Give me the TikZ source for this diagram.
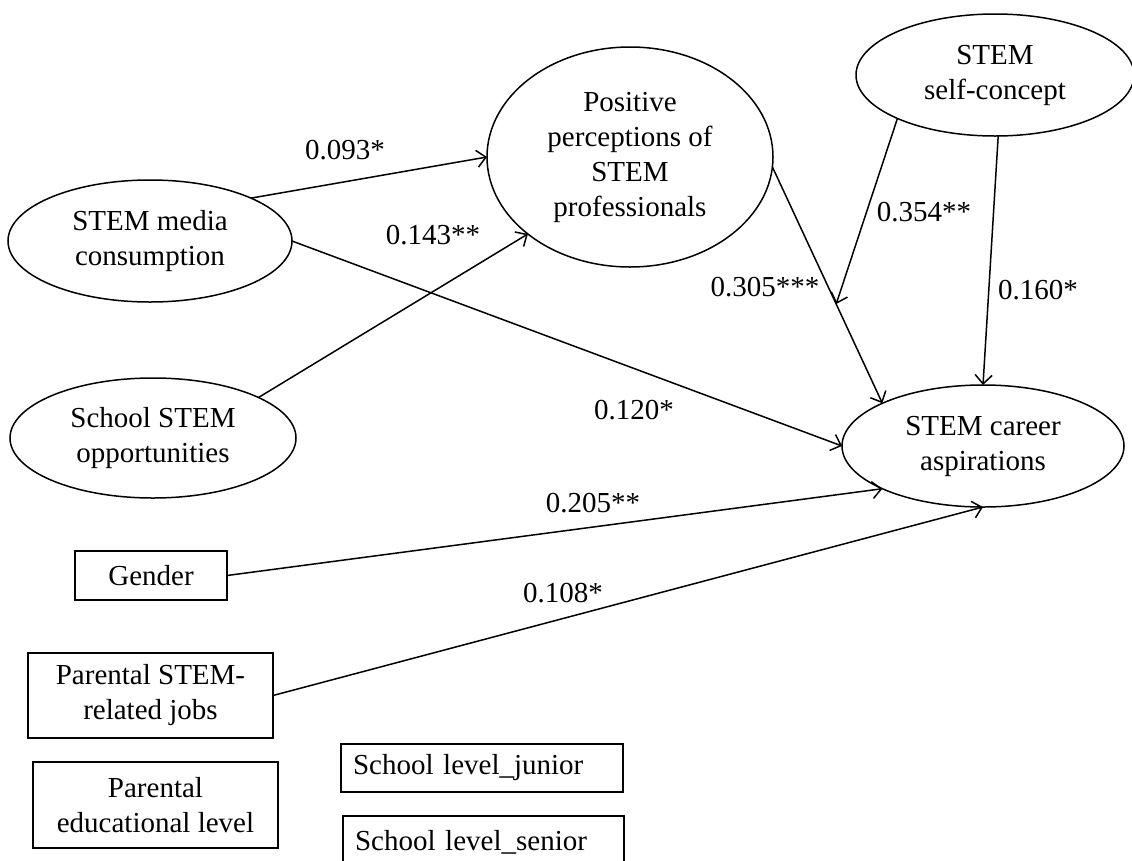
\documentclass[tikz,border=0pt]{standalone}
\usepackage{fontspec}
\setmainfont{Liberation Serif}
\usetikzlibrary{arrows.meta,calc,shapes.geometric}
\begin{document}
\begin{tikzpicture}[x=1pt,y=-1pt,
  every node/.style={font=\fontsize{29}{35}\selectfont, inner sep=0pt, outer sep=0pt},
  latent/.style={draw, ellipse, line width=1.5pt, align=center},
  obs/.style={draw, rectangle, line width=1.5pt, align=center},
  effect/.style={line width=1.5pt, -{Straight Barb[length=9pt,width=17pt,line width=1.5pt]}},
  coef/.style={}]
\useasboundingbox (0,0) rectangle (1132,860);
\fill[white] (0,0) rectangle (1132,860);
\clip (0,0) rectangle (1132,860);

\node[latent, minimum width=284, minimum height=122] (media) at (150,241) {STEM media\\consumption};
\node[latent, minimum width=286, minimum height=220] (pos) at (630,157) {Positive\\perceptions of\\STEM\\professionals};
\node[latent, minimum width=278, minimum height=122] (self) at (995,75) {STEM\\self-concept};
\node[latent, minimum width=286, minimum height=120] (school) at (153,438) {School STEM\\opportunities};
\node[latent, minimum width=282, minimum height=122] (career) at (983,446) {STEM career\\aspirations};

\node[obs, minimum width=152, minimum height=49] (gender) at (151,575.5) {Gender};
\node[obs, minimum width=245, minimum height=85] (pjobs) at (150.5,695.5) {Parental STEM-\\related jobs};
\node[obs, minimum width=245, minimum height=86] (pedu) at (155.5,805) {Parental\\educational level};
\node[obs, minimum height=48, text width=258pt, inner xsep=12pt, align=left] (junior) at (482,768) {School level\_junior};
\node[obs, minimum height=52, text width=257pt, inner xsep=12pt, align=left] (senior) at (483.5,842) {School level\_senior};

\draw[effect] (media.23) -- (pos.west);
\draw[effect] (school.21.5) -- (pos.217);
\draw[effect] (media.east) -- (career.west);
\draw[effect] (pos.-4) -- (career.157);
\coordinate (mod) at ($(pos.-4)!0.58!(career.157)$);
\draw[effect] (self.204) -- (mod);
\draw[effect] (self.-87) -- (career.north);
\draw[effect] (gender.east) -- (career.203);
\draw[effect] (pjobs.east) -- (career.south);

\node[coef] (c1) at (345,150) {0.093*};
\node[coef] (c2) at (433,235) {0.143**};
\node[coef] (c3) at (765,287) {0.305***};
\node[coef] (c4) at (924,212) {0.354**};
\node[coef] (c5) at (1038,290) {0.160*};
\node[coef] (c6) at (634,410) {0.120*};
\node[coef] (c7) at (593,503) {0.205**};
\node[coef] (c8) at (563,593) {0.108*};
\end{tikzpicture}
\end{document}
